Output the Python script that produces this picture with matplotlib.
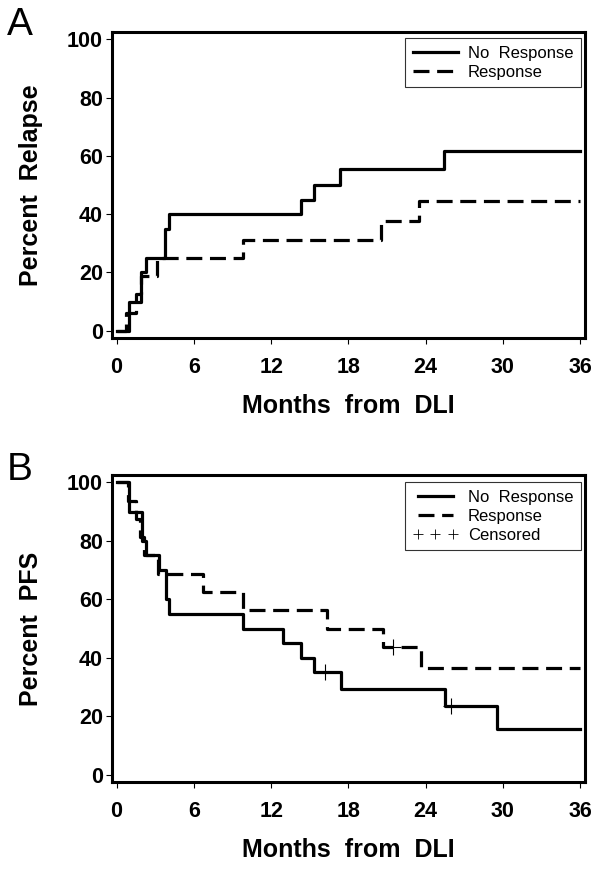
import matplotlib
matplotlib.use("Agg")
import matplotlib.pyplot as plt
from matplotlib.lines import Line2D

plt.rcParams["font.family"] = ["Liberation Sans", "DejaVu Sans"]

# Panel A: cumulative relapse (step points, months -> percent)
relapse_no_t = [0, 0.93, 1.86, 2.3, 3.72, 4.06, 14.3, 15.3, 17.35, 25.4, 36]
relapse_no_v = [0, 10, 20, 25, 35, 40, 45, 50, 55.6, 61.7, 61.7]
relapse_yes_t = [0, 0.75, 1.5, 1.9, 3.1, 9.8, 20.5, 23.45, 36]
relapse_yes_v = [0, 6.25, 12.5, 18.75, 25, 31.25, 37.5, 44.4, 44.4]

# Panel B: progression-free survival
pfs_no_t = [0, 0.95, 1.99, 2.3, 3.3, 3.8, 4.08, 9.8, 12.9, 14.35, 15.3, 17.4, 25.5, 29.5, 36]
pfs_no_v = [100, 90, 80, 75, 70, 60, 55, 50, 45, 40, 35, 29.2, 23.4, 15.6, 15.6]
pfs_yes_t = [0, 0.9, 1.5, 1.8, 2.1, 3.2, 6.67, 9.8, 16.3, 20.7, 23.6, 36]
pfs_yes_v = [100, 93.75, 87.5, 81.25, 75, 68.75, 62.5, 56.25, 50, 43.75, 36.46, 36.46]
cens_no_t = [16.2, 25.97]
cens_no_v = [35, 23.4]
cens_yes_t = [21.5]
cens_yes_v = [43.75]

xticks = [0, 6, 12, 18, 24, 30, 36]
yticks = [0, 20, 40, 60, 80, 100]

LW = 2.3
DASH = (0, (5, 2.4))


def style_axes(ax, ylabel):
    ax.set_xlim(-0.36, 36.37)
    ax.set_ylim(-2.5, 102.5)
    ax.set_xticks(xticks)
    ax.set_yticks(yticks)
    for s in ax.spines.values():
        s.set_linewidth(2.2)
    ax.tick_params(axis="x", length=4, width=0.8, pad=9.5, labelsize=15.5)
    ax.tick_params(axis="y", length=4, width=0.8, pad=2.5, labelsize=15.5)
    for lab in ax.get_xticklabels() + ax.get_yticklabels():
        lab.set_fontweight("bold")
    ax.set_xlabel("Months  from  DLI", fontsize=18, fontweight="bold", labelpad=12)
    ax.set_ylabel(ylabel, fontsize=18, fontweight="bold")
    ax.yaxis.set_label_coords(-0.146, 0.5)


fig = plt.figure(figsize=(6.03, 8.73), dpi=100)
ax1 = fig.add_axes([0.1857, 0.6128, 0.7844, 0.3505])
ax2 = fig.add_axes([0.1857, 0.1042, 0.7844, 0.3517])

leg_kw = dict(loc="upper right", fontsize=12, frameon=True, fancybox=False, edgecolor="black",
              handlelength=2.7, borderaxespad=0, labelspacing=0.25, handletextpad=0.6,
              borderpad=0.45)

ax1.step(relapse_no_t, relapse_no_v, where="post", color="black", lw=LW, label="No  Response")
ax1.step(relapse_yes_t, relapse_yes_v, where="post", color="black", lw=LW, linestyle=DASH, label="Response")
style_axes(ax1, "Percent  Relapse")
leg1 = ax1.legend(bbox_to_anchor=(0.9915, 0.980), **leg_kw)
leg1.get_frame().set_linewidth(0.8)

ax2.step(pfs_no_t, pfs_no_v, where="post", color="black", lw=LW, label="No  Response")
ax2.step(pfs_yes_t, pfs_yes_v, where="post", color="black", lw=LW, linestyle=DASH, label="Response")
ax2.plot(cens_no_t, cens_no_v, linestyle="none", marker="+", color="black", ms=12, mew=0.8)
ax2.plot(cens_yes_t, cens_yes_v, linestyle="none", marker="+", color="black", ms=12, mew=0.8)
style_axes(ax2, "Percent  PFS")
handles, labels = ax2.get_legend_handles_labels()
handles.append(Line2D([0, 1], [0, 0], linestyle="none", marker="+", color="black", ms=7, mew=0.6))
labels.append("Censored")
leg2 = ax2.legend(handles, labels, numpoints=3, bbox_to_anchor=(0.9915, 0.977), **leg_kw)
leg2.get_frame().set_linewidth(0.8)

fig.text(0.012, 1 - 7 / 873, "A", fontsize=28, va="top", ha="left")
fig.text(0.012, 1 - 452 / 873, "B", fontsize=28, va="top", ha="left")

fig.savefig("out.png", dpi=100)
plt.close(fig)
